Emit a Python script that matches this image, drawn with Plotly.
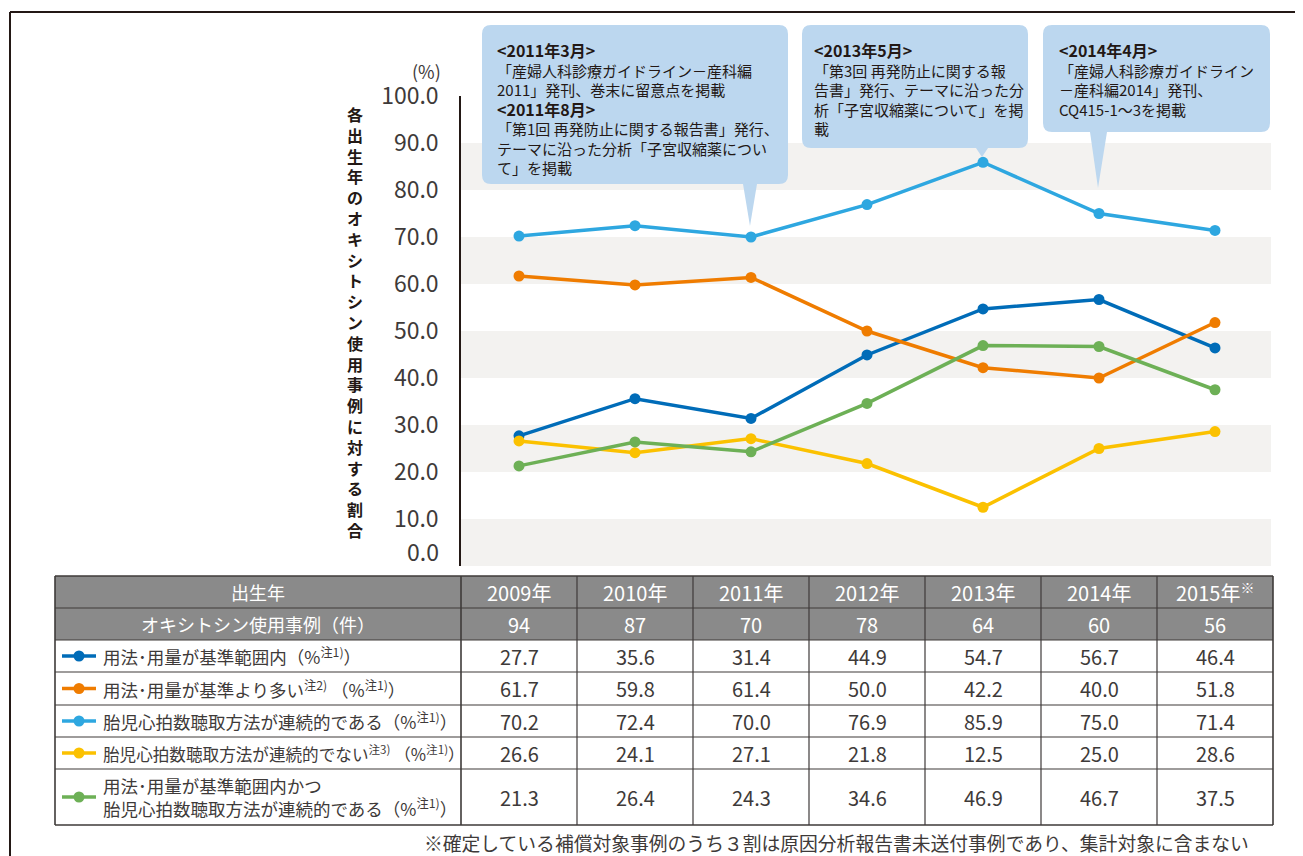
import plotly.graph_objects as go

# ---------------- data ----------------
years = ["2009年", "2010年", "2011年", "2012年", "2013年", "2014年", "2015年"]
year_labels = ["2009年", "2010年", "2011年", "2012年", "2013年", "2014年", "2015年<sup>※</sup>"]
counts = [94, 87, 70, 78, 64, 60, 56]

s_within = [27.7, 35.6, 31.4, 44.9, 54.7, 56.7, 46.4]
s_over = [61.7, 59.8, 61.4, 50.0, 42.2, 40.0, 51.8]
s_cont = [70.2, 72.4, 70.0, 76.9, 85.9, 75.0, 71.4]
s_noncont = [26.6, 24.1, 27.1, 21.8, 12.5, 25.0, 28.6]
s_both = [21.3, 26.4, 24.3, 34.6, 46.9, 46.7, 37.5]

series_names = [
    "用法･用量が基準範囲内（%<sup>注1)</sup>）",
    "用法･用量が基準より多い<sup>注2)</sup> （%<sup>注1)</sup>）",
    "胎児心拍数聴取方法が連続的である（%<sup>注1)</sup>）",
    "胎児心拍数聴取方法が連続的でない<sup>注3)</sup> （%<sup>注1)</sup>）",
    "用法･用量が基準範囲内かつ<br>胎児心拍数聴取方法が連続的である（%<sup>注1)</sup>）",
]
series_values = [s_within, s_over, s_cont, s_noncont, s_both]
series_colors = ["#006cb8", "#ef7c00", "#2ea7e0", "#fbc100", "#6db056"]

y_ticks = [10, 20, 30, 40, 50, 60, 70, 80, 90, 100]
y_title = "各出生年のオキシトシン使用事例に対する割合"

H1 = '<span style="font-size:16px"><b>'
H2 = '</b></span>'
callouts = [
    H1 + "&lt;2011年3月&gt;" + H2 + "<br>「産婦人科診療ガイドライン－産科編<br>2011」発刊、巻末に留意点を掲載<br>"
    + H1 + "&lt;2011年8月&gt;" + H2 + "<br>「第1回 再発防止に関する報告書」発行、<br>テーマに沿った分析「子宮収縮薬につい<br>て」を掲載",
    H1 + "&lt;2013年5月&gt;" + H2 + "<br>「第3回 再発防止に関する報<br>告書」発行、テーマに沿った分<br>析「子宮収縮薬について」を掲<br>載",
    H1 + "&lt;2014年4月&gt;" + H2 + "<br>「産婦人科診療ガイドライン<br>－産科編2014」発刊、<br>CQ415-1～3を掲載",
]
footnote = "※確定している補償対象事例のうち３割は原因分析報告書未送付事例であり、集計対象に含まない"

# ---------------- layout helpers ----------------
# the page adds an 8px body margin, so reference pixel positions are shifted by 8px
OFF = 8
W, H = 1303 - OFF, 856 - OFF
FONT = "Noto Sans CJK JP"
TXT = "#3e3a39"
LINE = "#3e3a39"


def px(x):
    return (x - OFF) / W


def py(y):
    return 1 - (y - OFF) / H


plot_left, plot_right = 461, 1273
plot_top, plot_bottom = 96, 566

fig = go.Figure()

for name, vals, col in zip(series_names, series_values, series_colors):
    fig.add_trace(go.Scatter(
        x=years, y=vals, mode="lines+markers", name=name.replace("<br>", ""),
        line=dict(color=col, width=3.5),
        marker=dict(color=col, size=11),
        showlegend=False, hoverinfo="skip",
    ))

shapes = []
annotations = []

# alternating bands
for lo in range(0, 100, 20):
    shapes.append(dict(type="rect", xref="paper", yref="y",
                       x0=px(plot_left), x1=px(1271), y0=lo, y1=lo + 10,
                       fillcolor="#f3f2f0", line=dict(width=0), layer="below"))

# outer frame (top and left)
shapes.append(dict(type="line", xref="paper", yref="paper", x0=px(10), x1=px(1320),
                   y0=py(12), y1=py(12), line=dict(color="#231815", width=2)))
shapes.append(dict(type="line", xref="paper", yref="paper", x0=px(10), x1=px(10),
                   y0=py(12), y1=py(880), line=dict(color="#231815", width=2)))

# y-axis title, (%) and 0.0 label
annotations.append(dict(text="<br>".join(list(y_title)), xref="paper", yref="paper",
                        x=px(355), y=py(322), xanchor="center", yanchor="middle",
                        showarrow=False, align="center",
                        font=dict(family=FONT, size=16, color="#231815", weight="bold")))
annotations.append(dict(text="(%)", xref="paper", yref="paper", x=px(443), y=py(71),
                        xanchor="right", yanchor="middle", showarrow=False,
                        font=dict(family=FONT, size=18, color=TXT)))
annotations.append(dict(text="0.0", xref="paper", yref="y", x=px(441), y=0,
                        xanchor="right", yanchor="middle", yshift=15, showarrow=False,
                        font=dict(family=FONT, size=23, color=TXT)))


# callout bubbles
def bubble(x0, y0, x1, y1, r, bx0, bx1, tx, ty):
    pts = [
        ("M", (x0 + r, y0)), ("L", (x1 - r, y0)), ("Q", (x1, y0), (x1, y0 + r)),
        ("L", (x1, y1 - r)), ("Q", (x1, y1), (x1 - r, y1)),
        ("L", (bx1, y1)), ("L", (tx, ty)), ("L", (bx0, y1)),
        ("L", (x0 + r, y1)), ("Q", (x0, y1), (x0, y1 - r)),
        ("L", (x0, y0 + r)), ("Q", (x0, y0), (x0 + r, y0)),
    ]
    out = []
    for item in pts:
        cmd = item[0]
        coords = " ".join(f"{px(a):.5f},{py(b):.5f}" for a, b in item[1:])
        out.append(f"{cmd} {coords}")
    return " ".join(out) + " Z"


bubbles = [
    (482, 25, 788, 184, 9, 743, 757, 750, 226, 495),
    (802, 25, 1028, 148, 9, 976, 988, 982, 157, 812),
    (1043, 25, 1270, 132, 9, 1090, 1107, 1098, 188, 1057),
]
for (x0, y0, x1, y1, r, bx0, bx1, tx, ty, txl), txt in zip(bubbles, callouts):
    shapes.append(dict(type="path", xref="paper", yref="paper",
                       path=bubble(x0, y0, x1, y1, r, bx0, bx1, tx, ty),
                       fillcolor="#bcd7ef", line=dict(width=0), layer="above"))
    annotations.append(dict(text=txt, xref="paper", yref="paper", x=px(txl), y=py(36),
                            xanchor="left", yanchor="top", align="left", showarrow=False,
                            font=dict(family=FONT, size=15, color="#231815")))

# ---------------- table ----------------
t_left, t_right = 55, 1273
col_edges = [55, 461, 577, 693, 809, 925, 1041, 1157, 1273]
row_edges = [576, 608, 640, 672, 705, 737, 769, 825]

shapes.append(dict(type="rect", xref="paper", yref="paper", x0=px(t_left), x1=px(t_right),
                   y0=py(row_edges[0]), y1=py(row_edges[2]), fillcolor="#8a8a8a",
                   line=dict(width=0), layer="below"))
for i, yy in enumerate(row_edges):
    shapes.append(dict(type="line", xref="paper", yref="paper", x0=px(t_left), x1=px(t_right),
                       y0=py(yy), y1=py(yy),
                       line=dict(color=LINE, width=1.6 if i in (0, len(row_edges) - 1) else 1.2)))
for j, xx in enumerate(col_edges):
    shapes.append(dict(type="line", xref="paper", yref="paper", x0=px(xx), x1=px(xx),
                       y0=py(row_edges[0]), y1=py(row_edges[-1]),
                       line=dict(color=LINE, width=1.6 if j in (0, 1, len(col_edges) - 1) else 1.2)))


def row_center(k):
    return (row_edges[k] + row_edges[k + 1]) / 2


label_cx = (col_edges[0] + col_edges[1]) / 2
annotations.append(dict(text="出生年", xref="paper", yref="paper", x=px(label_cx), y=py(row_center(0)),
                        xanchor="center", yanchor="middle", showarrow=False,
                        font=dict(family=FONT, size=18, color="white")))
annotations.append(dict(text="オキシトシン使用事例（件）", xref="paper", yref="paper", x=px(label_cx),
                        y=py(row_center(1)), xanchor="center", yanchor="middle", showarrow=False,
                        font=dict(family=FONT, size=18, color="white")))
for yr, lab, c in zip(years, year_labels, counts):
    annotations.append(dict(text=lab, xref="x", yref="paper", x=yr, y=py(row_center(0)),
                            xanchor="center", yanchor="middle", showarrow=False,
                            font=dict(family=FONT, size=20, color="white")))
    annotations.append(dict(text=str(c), xref="x", yref="paper", x=yr, y=py(row_center(1)),
                            xanchor="center", yanchor="middle", showarrow=False,
                            font=dict(family=FONT, size=20, color="white")))

label_sizes = [17.5, 17.5, 17.5, 16.6, 17.5]
for k, (name, vals, col) in enumerate(zip(series_names, series_values, series_colors)):
    yc = row_center(k + 2)
    shapes.append(dict(type="line", xref="paper", yref="paper", x0=px(62), x1=px(96),
                       y0=py(yc), y1=py(yc), line=dict(color=col, width=3.5)))
    shapes.append(dict(type="circle", xref="paper", yref="paper", x0=px(73.5), x1=px(84.5),
                       y0=py(yc - 5.5), y1=py(yc + 5.5), fillcolor=col, line=dict(width=0)))
    annotations.append(dict(text=name, xref="paper", yref="paper", x=px(101), y=py(yc),
                            xanchor="left", yanchor="middle", align="left", showarrow=False,
                            font=dict(family=FONT, size=label_sizes[k], color=TXT)))
    for yr, v in zip(years, vals):
        annotations.append(dict(text=f"{v:.1f}", xref="x", yref="paper", x=yr, y=py(yc),
                                xanchor="center", yanchor="middle", showarrow=False,
                                font=dict(family=FONT, size=20, color=TXT)))

annotations.append(dict(text=footnote, xref="paper", yref="paper", x=px(1251), y=py(842),
                        xanchor="right", yanchor="middle", showarrow=False,
                        font=dict(family=FONT, size=18.8, color=TXT)))

fig.update_layout(
    width=W, height=H,
    margin=dict(l=0, r=0, t=0, b=0, pad=0, autoexpand=False),
    paper_bgcolor="white", plot_bgcolor="white",
    font=dict(family=FONT, color=TXT),
    xaxis=dict(domain=[px(plot_left), px(plot_right)], range=[-0.5, 6.5],
               type="category", categoryorder="array", categoryarray=years,
               visible=False, fixedrange=True, automargin=False),
    yaxis=dict(domain=[py(plot_bottom), py(plot_top)], range=[0, 100],
               tickvals=y_ticks, ticktext=[f"{v:.1f}" for v in y_ticks],
               tickfont=dict(family=FONT, size=23, color=TXT),
               showgrid=False, zeroline=False, showline=True,
               linecolor="#231815", linewidth=1.5, ticks="", ticklabelstandoff=16,
               fixedrange=True, automargin=False),
    shapes=shapes,
    annotations=annotations,
)

fig.write_html("out.html")
